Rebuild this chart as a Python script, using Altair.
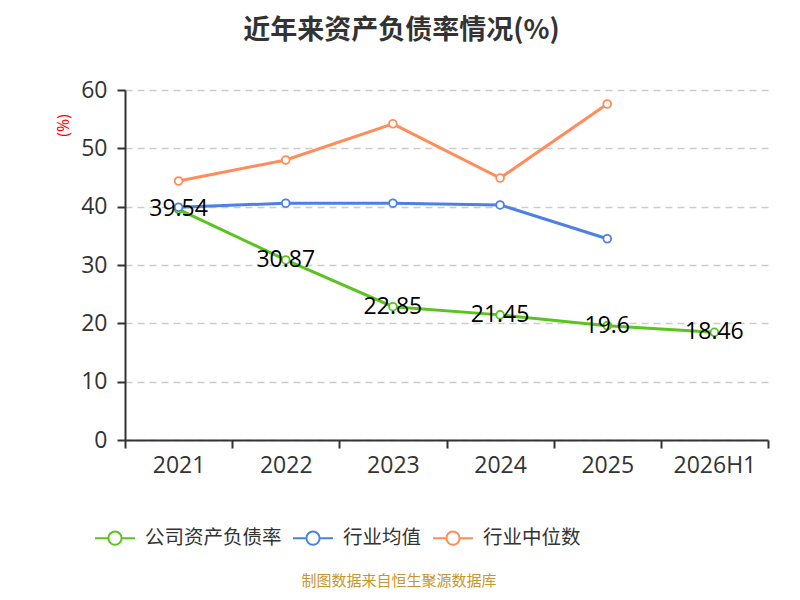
import altair as alt
import pandas as pd

years = ["2021", "2022", "2023", "2024", "2025", "2026H1"]
company = [39.54, 30.87, 22.85, 21.45, 19.6, 18.46]
company_labels = ["39.54", "30.87", "22.85", "21.45", "19.6", "18.46"]
industry_avg = [39.9, 40.6, 40.6, 40.3, 34.5]
industry_median = [44.4, 48.0, 54.2, 44.9, 57.6]

series_names = ["公司资产负债率", "行业均值", "行业中位数"]
series_colors = ["#5ac41e", "#4d80e4", "#ff8c59"]

rows = []
for y, v, lab in zip(years, company, company_labels):
    rows.append({"year": y, "value": v, "series": series_names[0], "label": lab})
for y, v in zip(years, industry_avg):
    rows.append({"year": y, "value": v, "series": series_names[1], "label": ""})
for y, v in zip(years, industry_median):
    rows.append({"year": y, "value": v, "series": series_names[2], "label": ""})
df = pd.DataFrame(rows)

CJK = "Noto Sans CJK SC"
NUM = "Open Sans"

x_enc = alt.X(
    "year:N",
    sort=years,
    bandPosition=0.5,
    scale=alt.Scale(type="band", paddingInner=0, paddingOuter=0, domain=years),
    axis=alt.Axis(
        title=None, labelAngle=0, tickBand="extent", grid=False,
        labelFontSize=23, labelColor="#333333", labelPadding=6, labelFont=NUM,
        domainColor="#333333", tickColor="#333333", tickSize=8,
        domainWidth=2, tickWidth=2,
    ),
)
y_enc = alt.Y(
    "value:Q",
    scale=alt.Scale(domain=[0, 60], nice=False),
    axis=alt.Axis(
        values=[0, 10, 20, 30, 40, 50, 60],
        title="(%)", titleColor="#ff0000", titleFontSize=16, titleFontWeight="normal",
        titleAngle=270, titleX=-62, titleY=35, titleAlign="center", titleBaseline="middle",
        titleFont=NUM,
        labelFontSize=23, labelColor="#333333", labelPadding=10, labelFont=NUM,
        domainColor="#333333", tickColor="#333333", tickSize=8,
        domainWidth=2, tickWidth=2,
        grid=True, gridDash=[7, 5], gridColor="#cccccc", gridWidth=1.5,
    ),
)

legend_path = ("M-1,0 L-0.33,0 M0.33,0 L1,0 "
               "M-0.33,0 A0.33,0.33 0 1,1 0.33,0 A0.33,0.33 0 1,1 -0.33,0 Z")

color_enc = alt.Color(
    "series:N",
    sort=series_names,
    scale=alt.Scale(domain=series_names, range=series_colors),
    legend=alt.Legend(
        title=None, orient="none", direction="horizontal", columns=3,
        legendX=-31, legendY=427,
        symbolType=legend_path, symbolSize=1600, symbolStrokeWidth=2,
        symbolFillColor="white",
        labelFontSize=19.5, labelColor="#333333", labelFont=CJK,
        labelOffset=9, columnPadding=7,
    ),
)

lines = alt.Chart(df).mark_line(
    strokeWidth=3,
    point=alt.OverlayMarkDef(filled=False, fill="white", size=60, strokeWidth=1.8, opacity=1),
).encode(x=x_enc, y=y_enc, color=color_enc)

labels = alt.Chart(df[df["series"] == series_names[0]]).mark_text(
    fontSize=23, color="#000000", font=NUM, align="center", baseline="middle"
).encode(
    x=alt.X("year:N", sort=years, bandPosition=0.5),
    y=alt.Y("value:Q"),
    text="label:N",
)

footer_df = pd.DataFrame({"t": ["制图数据来自恒生聚源数据库"]})
footer = alt.Chart(footer_df).mark_text(
    fontSize=15, color="#c9952d", font=CJK, align="center", baseline="middle"
).encode(x=alt.value(274), y=alt.value(491), text="t:N")

chart = alt.layer(lines, labels, footer).properties(
    width=643,
    height=350,
    autosize=alt.AutoSizeParams(type="none"),
    padding={"left": 117, "top": 82, "right": 24, "bottom": 152},
    title=alt.Title(
        "近年来资产负债率情况(%)", fontSize=27, fontWeight="bold", color="#333333",
        font=CJK, anchor="middle", frame="group", dx=-45, offset=34,
    ),
).configure_view(stroke=None)

chart.save("out.html", embed_options={"renderer": "svg", "actions": False})
